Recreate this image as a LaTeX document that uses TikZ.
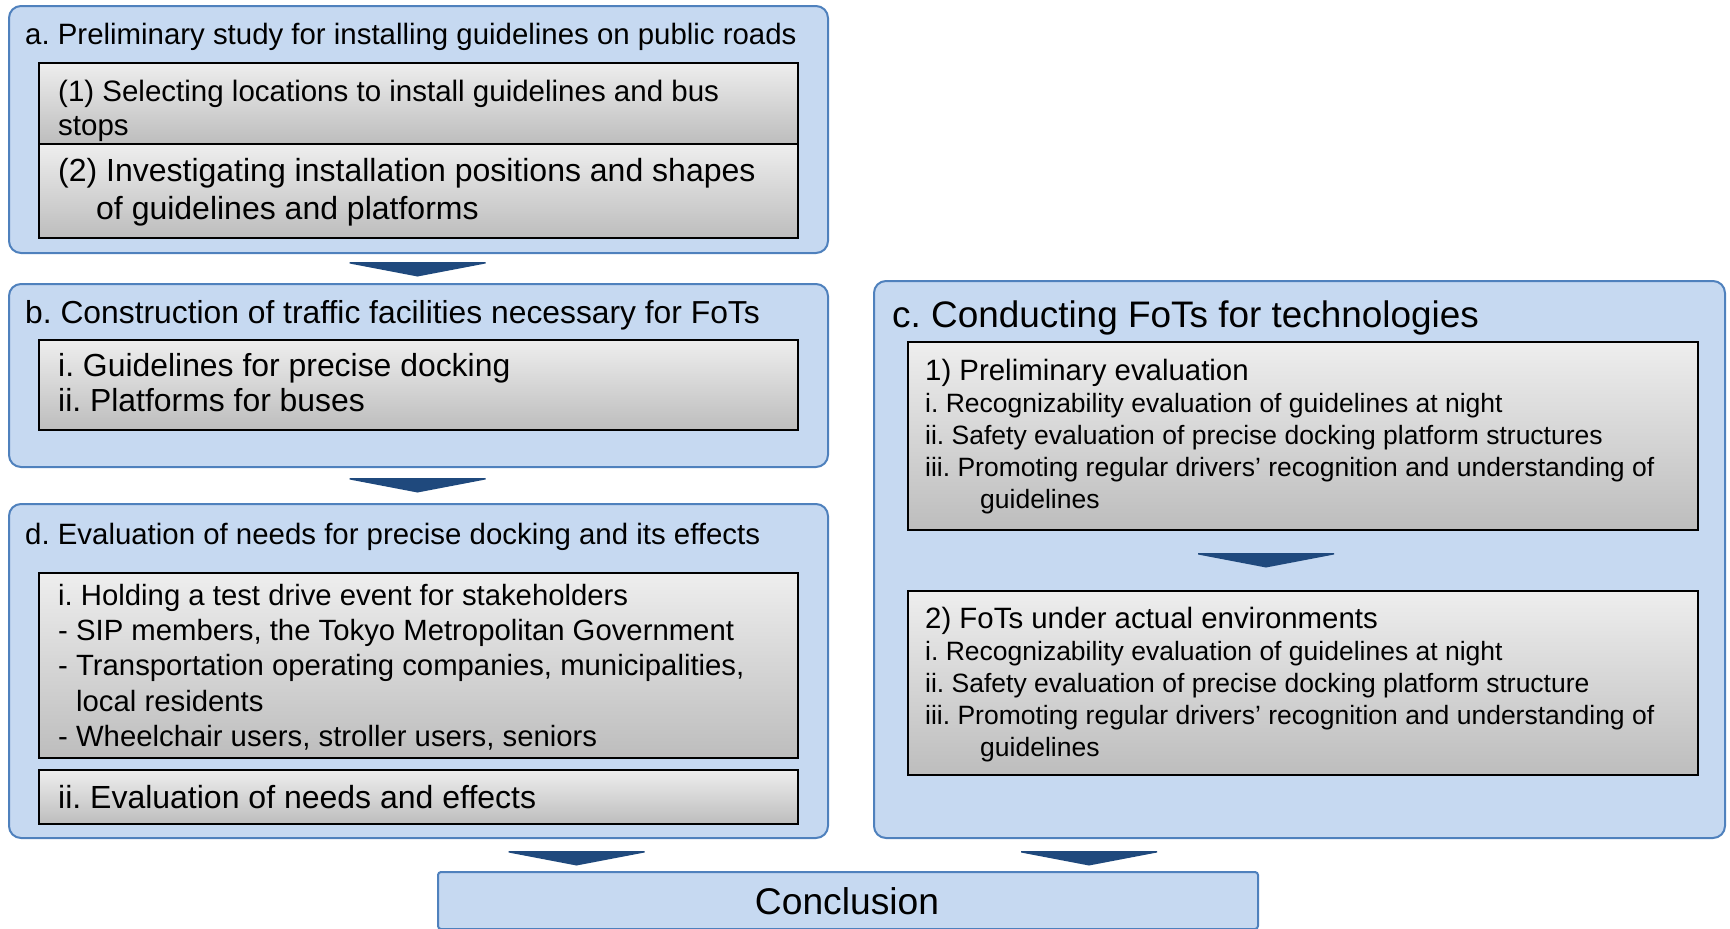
\documentclass[tikz,border=0pt]{standalone}
\usepackage{fontspec}
\setmainfont{Liberation Sans}
\usetikzlibrary{calc}
\definecolor{boxfill}{HTML}{C6D9F1}
\definecolor{boxline}{HTML}{4F81BD}
\definecolor{arrowc}{HTML}{1F497D}
\definecolor{gtop}{HTML}{EEEEEE}
\definecolor{gbot}{HTML}{BDBDBD}
\tikzset{
  outerbox/.style={draw=boxline, line width=2pt, fill=boxfill, rounded corners=12pt, anchor=north west, inner sep=0pt},
  innerbox/.style={draw=black, line width=1.8pt, top color=gtop, bottom color=gbot, anchor=north west, inner sep=0pt},
  txt/.style={anchor=base west, inner sep=0pt, align=left},
  chev/.style={fill=arrowc},
}
\newcommand{\fs}[2]{\fontsize{#1}{#2}\selectfont}
\frenchspacing
\begin{document}
\frenchspacing
\begin{tikzpicture}[x=1pt,y=-1pt]
\useasboundingbox (0,0) rectangle (1730,929);
% outer boxes
\node[outerbox, minimum width=819pt, minimum height=247pt] (A) at (8,5) {};
\node[outerbox, minimum width=819pt, minimum height=183pt] (B) at (8,283) {};
\node[outerbox, minimum width=819pt, minimum height=334pt] (D) at (8,503) {};
\node[outerbox, minimum width=851pt, minimum height=557pt] (C) at (873,280) {};
\node[outerbox, rounded corners=3pt, minimum width=820pt, minimum height=57pt] (E) at (437,871) {};
% inner boxes
\node[innerbox, minimum width=759pt, minimum height=81pt] (A1) at (38,62) {};
\node[innerbox, minimum width=759pt, minimum height=94pt] (A2) at (38,143) {};
\node[innerbox, minimum width=759pt, minimum height=90pt] (B1) at (38,339) {};
\node[innerbox, minimum width=759pt, minimum height=185pt] (D1) at (38,572) {};
\node[innerbox, minimum width=759pt, minimum height=54pt] (D2) at (38,769) {};
\node[innerbox, minimum width=790pt, minimum height=188pt] (C1) at (907,341) {};
\node[innerbox, minimum width=790pt, minimum height=184pt] (C2) at (907,590) {};
% chevrons
\coordinate (ab) at (417.5,262);
\coordinate (bd) at (417.5,478);
\coordinate (cc) at (1266,553);
\coordinate (de) at (576.5,851);
\coordinate (ce) at (1089,851);
\foreach \p in {ab,bd,cc,de,ce}{
  \fill[chev] ($(\p)+(-68,0)$) -- ($(\p)+(68,0)$) -- ($(\p)+(68,1.5)$) -- ($(\p)+(0,14.5)$) -- ($(\p)+(-68,1.5)$) -- cycle;
}
% texts (base anchor of a multi-line node = baseline of its last line)
\node[txt, font=\fs{29.4}{35}] (At) at (25,44.5) {a. Preliminary study for installing guidelines on public roads};
\node[txt, font=\fs{29.5}{34}] (A1t) at (58,135) {(1) Selecting locations to install guidelines and bus\\stops};
\node[txt, font=\fs{32}{37.5}] (A2t) at (58,219) {(2) Investigating installation positions and shapes\\\hspace*{38pt}of guidelines and platforms};
\node[txt, font=\fs{31.8}{35}] (Bt) at (25,323.5) {b. Construction of traffic facilities necessary for FoTs};
\node[txt, font=\fs{31.9}{35}] (B1t) at (58,411) {i. Guidelines for precise docking\\ii. Platforms for buses};
\node[txt, font=\fs{29.4}{35}] (Dt) at (25,544) {d. Evaluation of needs for precise docking and its effects};
\node[txt, font=\fs{29.3}{35.3}] (D1t) at (58,746.5) {i. Holding a test drive event for stakeholders\\- SIP members, the Tokyo Metropolitan Government\\- Transportation operating companies, municipalities,\\\hspace*{18pt}local residents\\- Wheelchair users, stroller users, seniors};
\node[txt, font=\fs{32}{37}] (D2t) at (58,808) {ii. Evaluation of needs and effects};
\node[txt, font=\fs{36.9}{42}] (Ct) at (892,327) {c. Conducting FoTs for technologies};
\node[txt, font=\fs{29.4}{32}] (C1h) at (925,380) {1) Preliminary evaluation};
\node[txt, font=\fs{26.5}{32}] (C1l) at (925,508) {i. Recognizability evaluation of guidelines at night\\ii. Safety evaluation of precise docking platform structures\\iii. Promoting regular drivers’ recognition and understanding of\\\hspace*{55pt}guidelines};
\node[txt, font=\fs{29.4}{32}] (C2h) at (925,628.5) {2) FoTs under actual environments};
\node[txt, font=\fs{26.5}{32}] (C2l) at (925,756) {i. Recognizability evaluation of guidelines at night\\ii. Safety evaluation of precise docking platform structure\\iii. Promoting regular drivers’ recognition and understanding of\\\hspace*{55pt}guidelines};
\node[anchor=base, inner sep=0pt, font=\fs{37.2}{42}] (Et) at (847,914) {Conclusion};
\end{tikzpicture}
\end{document}
